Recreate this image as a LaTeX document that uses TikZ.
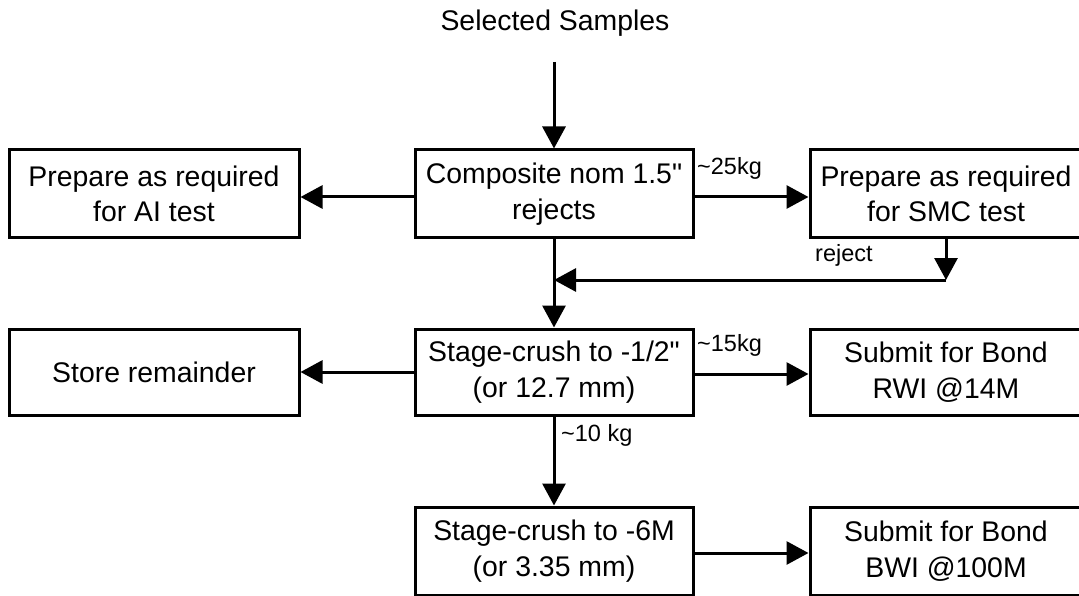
\documentclass[tikz,border=0pt]{standalone}
\usepackage{fontspec}
\setmainfont{Liberation Sans}[Ligatures=TeXOff]
\usetikzlibrary{arrows.meta}
\begin{document}
\begin{tikzpicture}[x=1pt,y=-1pt,
  box/.style={draw,line width=3pt,rectangle,inner sep=0pt,align=center,
    font=\fontsize{28.4}{35.5}\selectfont},
  lbl/.style={inner sep=0pt,anchor=west,font=\fontsize{23.5}{28}\selectfont},
  arr/.style={line width=3pt,-{Triangle[length=22pt,width=23pt]}},
  ln/.style={line width=3pt}]
\useasboundingbox (0,0) rectangle (1079,596);
\node[inner sep=0pt,font=\fontsize{28.4}{34}\selectfont] (sel) at (555,23) {Selected Samples};
\node[box,minimum width=290,minimum height=88] (ai) at (154,194) {Prepare as required\\for AI test};
\node[box,minimum width=278,minimum height=88] (comp) at (554,194) {Composite nom 1.5"\\rejects};
\node[box,minimum width=272,minimum height=88] (smc) at (946,194) {Prepare as required\\for SMC test};
\node[box,minimum width=290,minimum height=86] (store) at (154,372) {Store remainder};
\node[box,minimum width=278,minimum height=86] (st1) at (554,372) {Stage-crush to -1/2"\\(or 12.7 mm)};
\node[box,minimum width=272,minimum height=86] (rwi) at (946,372) {Submit for Bond\\RWI @14M};
\node[box,minimum width=278,minimum height=88] (st2) at (554,551) {Stage-crush to -6M\\(or 3.35 mm)};
\node[box,minimum width=272,minimum height=88] (bwi) at (946,551) {Submit for Bond\\BWI @100M};
\coordinate (selend) at (554,62);
\coordinate (rej) at (946,280);
\coordinate (join) at (554,280);
\draw[arr] (selend) -- (comp.north);
\draw[arr] ([yshift=-3pt]comp.west) -- ([yshift=-3pt]ai.east);
\draw[arr] ([yshift=-3pt]comp.east) -- ([yshift=-3pt]smc.west);
\draw[arr] (smc.south) -- (rej);
\draw[arr] (rej) -- (join);
\draw[arr] (comp.south) -- (st1.north);
\draw[arr] (st1.west) -- (store.east);
\draw[arr] ([yshift=-2pt]st1.east) -- ([yshift=-2pt]rwi.west);
\draw[arr] (st1.south) -- (st2.north);
\draw[arr] ([yshift=-2pt]st2.east) -- ([yshift=-2pt]bwi.west);
\node[lbl] (l25) at (697,168) {\textasciitilde25kg};
\node[lbl] (l15) at (697,345) {\textasciitilde15kg};
\node[lbl] (l10) at (561,435) {\textasciitilde10 kg};
\node[lbl] (lrej) at (815,255) {reject};
\end{tikzpicture}
\end{document}
